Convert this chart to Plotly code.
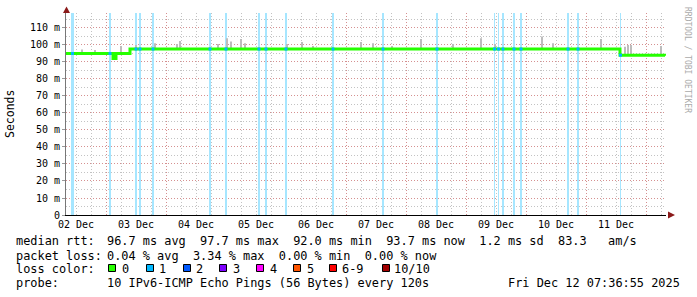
import numpy as np
import pandas as pd
import plotly.graph_objects as go

# ---------------- data ----------------
range_start = "2025-12-02 08:00"
range_end = "2025-12-12 08:00"

# median RTT (ms), step changes
med_times = ["2025-12-02 08:00", "2025-12-03 02:48", "2025-12-03 04:00",
             "2025-12-03 09:36", "2025-12-11 13:36", "2025-12-12 07:36"]
med_vals = [95.0, 92.0, 95.0, 97.6, 94.0, 93.7]

# intervals with 1/10 packet lost (centre time, duration in minutes)
loss_times = ["2025-12-02 10:36", "2025-12-03 01:36", "2025-12-03 12:00",
              "2025-12-03 13:36", "2025-12-03 18:48", "2025-12-04 17:36",
              "2025-12-05 00:00", "2025-12-05 13:12", "2025-12-05 16:00",
              "2025-12-06 00:00", "2025-12-06 18:48", "2025-12-07 14:48",
              "2025-12-08 12:24", "2025-12-09 11:24", "2025-12-09 13:00",
              "2025-12-09 14:48", "2025-12-09 19:12", "2025-12-09 22:00",
              "2025-12-10 16:48", "2025-12-10 20:48", "2025-12-11 13:48"]
loss_minutes = [72, 24, 24, 24, 24, 24, 24, 24, 24, 24, 24, 24, 24, 24, 24,
                24, 24, 48, 24, 24, 24]

# smoke spikes: time and max RTT (ms)
spike_times = ["2025-12-02 14:24", "2025-12-02 19:36", "2025-12-03 06:00",
               "2025-12-03 12:00", "2025-12-03 19:36", "2025-12-04 04:24",
               "2025-12-04 05:36", "2025-12-04 20:48", "2025-12-05 00:24",
               "2025-12-05 02:00", "2025-12-05 06:00", "2025-12-05 07:36",
               "2025-12-06 00:24", "2025-12-06 06:24", "2025-12-06 10:48",
               "2025-12-07 06:00", "2025-12-07 10:48", "2025-12-07 18:24",
               "2025-12-08 06:00", "2025-12-08 18:48", "2025-12-09 06:00",
               "2025-12-09 11:36", "2025-12-10 06:24", "2025-12-10 10:48",
               "2025-12-11 06:00", "2025-12-11 15:36", "2025-12-11 16:48",
               "2025-12-11 18:00", "2025-12-12 06:00"]
spike_tops = [97.4, 97.0, 99.4, 100.0, 101.0, 100.6, 102.4, 100.6, 104.0,
              102.0, 103.5, 101.0, 100.6, 101.8, 99.4, 101.8, 101.0, 99.4,
              103.5, 100.6, 104.0, 100.6, 105.0, 101.0, 103.5, 99.0, 100.0,
              100.0, 99.4]

day_label_times = ["2025-12-02 12:00", "2025-12-03 12:00", "2025-12-04 12:00",
                   "2025-12-05 12:00", "2025-12-06 12:00", "2025-12-07 12:00",
                   "2025-12-08 12:00", "2025-12-09 12:00", "2025-12-10 12:00",
                   "2025-12-11 12:00"]
day_labels = ["02 Dec", "03 Dec", "04 Dec", "05 Dec", "06 Dec", "07 Dec",
              "08 Dec", "09 Dec", "10 Dec", "11 Dec"]

ytick_vals = [0, 10, 20, 30, 40, 50, 60, 70, 80, 90, 100, 110]
ytick_text = ["0", "10 m", "20 m", "30 m", "40 m", "50 m", "60 m", "70 m",
              "80 m", "90 m", "100 m", "110 m"]

loss_labels = ["0", "1", "2", "3", "4", "5", "6-9", "10/10"]
loss_colors = ["#26ff00", "#00b8ff", "#0059ff", "#7e00ff", "#ff00ff",
               "#ff5500", "#ff0000", "#a10000"]

stats_rtt = "96.7 ms avg  97.7 ms max  92.0 ms min  93.7 ms now  1.2 ms sd  83.3   am/s"
stats_loss = "0.04 % avg  3.34 % max  0.00 % min  0.00 % now"
probe_text = "10 IPv6-ICMP Echo Pings (56 Bytes) every 120s"
stamp_text = "Fri Dec 12 07:36:55 2025"
y_max = 118.8

# ---------------- figure ----------------
W, H = 697, 297
ML, MR, MT, MB = 66, 31, 13, 82
PW, PH = W - ML - MR, H - MT - MB
MONO = "DejaVu Sans Mono"


def px(x):
    return (x - ML) / PW


def py(y):
    return (H - MB - y) / PH


med_t = pd.to_datetime(med_times)


def med_at(ts):
    ts = pd.to_datetime(ts)
    idx = np.searchsorted(med_t.values, ts.values, side="right") - 1
    return [med_vals[i] for i in idx]


fig = go.Figure()

# loss background bars
fig.add_trace(go.Bar(
    x=pd.to_datetime(loss_times), y=[y_max] * len(loss_times),
    width=[m * 60000 for m in loss_minutes],
    marker=dict(color="#a6e6ff", line=dict(width=0)),
    hoverinfo="skip", showlegend=False))

# smoke spikes
spike_base = med_at(spike_times)
fig.add_trace(go.Bar(
    x=pd.to_datetime(spike_times),
    y=[t - b for t, b in zip(spike_tops, spike_base)],
    base=spike_base, width=[34 * 60000] * len(spike_times),
    marker=dict(color="#bdbdbd", line=dict(width=0)),
    hoverinfo="skip", showlegend=False))

# median line: thick green + thin black on the transitions
fig.add_trace(go.Scatter(
    x=med_t, y=med_vals, mode="lines", line=dict(color=loss_colors[0], width=3, shape="hv"),
    hoverinfo="skip", showlegend=False))
fig.add_trace(go.Scatter(
    x=med_t, y=med_vals, mode="lines", line=dict(color="#000000", width=1, shape="vh"),
    opacity=0.0, hoverinfo="skip", showlegend=False))

# loss colour on median line
fig.add_trace(go.Scatter(
    x=pd.to_datetime(loss_times), y=med_at(loss_times), mode="markers",
    marker=dict(symbol="square", size=3, color=loss_colors[1], line=dict(width=0)),
    hoverinfo="skip", showlegend=False))

# invisible trace to carry the midnight grid axis
fig.add_trace(go.Scatter(x=[range_start], y=[None], xaxis="x2", mode="lines",
                         hoverinfo="skip", showlegend=False))

RED = "rgba(225,110,110,0.6)"
GREY = "rgba(170,170,170,0.7)"
DOT = "1px,2px"

fig.update_layout(
    xaxis=dict(
        type="date", range=[range_start, range_end],
        tickvals=pd.to_datetime(day_label_times), ticktext=day_labels,
        ticks="", showgrid=False,
        minor=dict(dtick=6 * 3600000, tick0="2025-12-02 00:00", showgrid=True,
                   gridcolor=GREY, griddash=DOT, gridwidth=1),
        showline=True, linecolor="#000000", linewidth=1, zeroline=False,
        tickfont=dict(family=MONO, size=10, color="#000000"), fixedrange=True),
    xaxis2=dict(
        type="date", range=[range_start, range_end], overlaying="x",
        side="bottom", tick0="2025-12-02 00:00", dtick=86400000,
        showticklabels=False, ticks="", showgrid=True, gridcolor=RED,
        griddash=DOT, gridwidth=1, showline=False, zeroline=False,
        fixedrange=True),
    yaxis=dict(
        range=[0, y_max], tickvals=ytick_vals, ticktext=ytick_text,
        ticks="outside", ticklen=3, tickcolor="#999999",
        showgrid=True, gridcolor=RED, griddash=DOT, gridwidth=1,
        minor=dict(dtick=5, tick0=0, showgrid=True, gridcolor=GREY, griddash=DOT,
                   gridwidth=1),
        showline=True, linecolor="#777777", linewidth=1, zeroline=False,
        tickfont=dict(family=MONO, size=10, color="#000000"), fixedrange=True),
)

annotations = []


def ann(x, y, text, size=11.9, anchor="left", color="#000000", angle=0):
    annotations.append(dict(
        x=px(x), y=py(y), xref="paper", yref="paper", text=text, showarrow=False,
        xanchor=anchor, yanchor="middle", textangle=angle,
        font=dict(family=MONO, size=size, color=color), borderpad=0))


ann(15, 241, "median rtt:")
ann(106, 241, stats_rtt.replace(" ", "&nbsp;"))
ann(15, 255.5, "packet loss:")
ann(106, 255.5, stats_loss.replace(" ", "&nbsp;"))
ann(15, 269, "loss color:")
ann(15, 283, "probe:")
ann(106, 283, probe_text)
ann(681, 283, stamp_text, anchor="right")

sq_x = [108, 146, 183, 219, 256, 293, 329, 382]
lab_x = [121, 158, 195, 232, 269, 306, 341, 393]
shapes = []
for i, (lab, col) in enumerate(zip(loss_labels, loss_colors)):
    shapes.append(dict(type="rect", xref="paper", yref="paper",
                       x0=px(sq_x[i] + 0.5), x1=px(sq_x[i] + 7.5),
                       y0=py(271.5), y1=py(264.5),
                       fillcolor=col, line=dict(color="#000000", width=1)))
    ann(lab_x[i], 269, lab)

# y title and watermark
ann(10, 114, "Seconds", size=11.5, anchor="center", angle=-90)
ann(688, 60, "RRDTOOL / TOBI OETIKER", size=8, anchor="center", color="#aaaaaa", angle=90)


def path(pts):
    return "M " + " L ".join(f"{px(a)},{py(b)}" for a, b in pts) + " Z"


shapes.append(dict(type="path", xref="paper", yref="paper",
                   path=path([(66.5, 6.5), (63, 13), (70, 13)]),
                   fillcolor="#8b1a1a", line=dict(width=0)))
shapes.append(dict(type="path", xref="paper", yref="paper",
                   path=path([(675, 215), (668, 211.5), (668, 218.5)]),
                   fillcolor="#8b1a1a", line=dict(width=0)))

fig.update_layout(
    width=W, height=H, margin=dict(l=ML, r=MR, t=MT, b=MB, pad=0),
    paper_bgcolor="#ffffff", plot_bgcolor="#ffffff",
    barmode="overlay", showlegend=False,
    annotations=annotations, shapes=shapes)

fig.write_html("out.html", config={"displayModeBar": False})
